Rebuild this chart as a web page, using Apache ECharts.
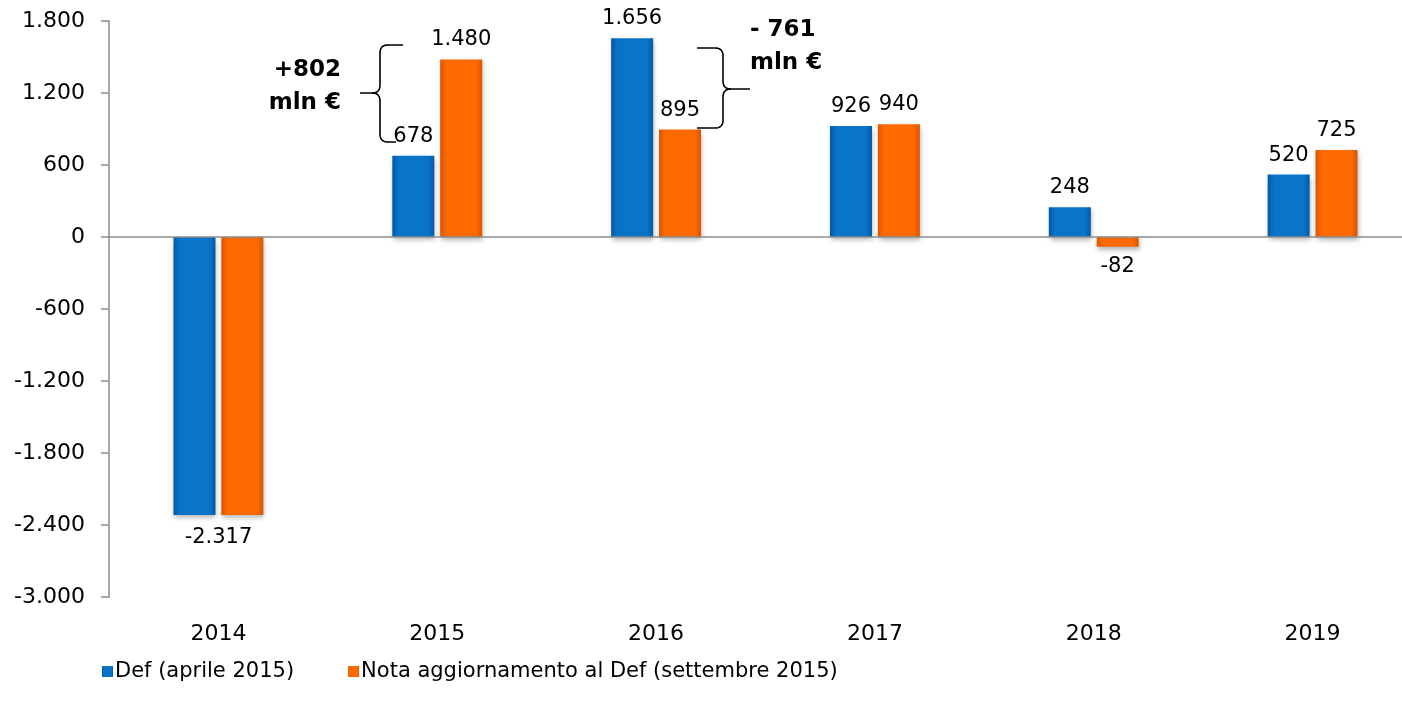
<!DOCTYPE html>
<html>
<head>
<meta charset="utf-8">
<script src="https://cdn.jsdelivr.net/npm/echarts@6/dist/echarts.min.js"></script>
<style>
html,body{margin:0;padding:0;background:#fff;overflow:hidden;width:1402px;height:712px;}
#chart{width:1430px;height:712px;}
</style>
</head>
<body>
<div id="chart"></div>
<script>
const categories = ['2014', '2015', '2016', '2017', '2018', '2019'];
const seriesNames = ['Def (aprile 2015)', 'Nota aggiornamento al Def (settembre 2015)'];
const defValues = [-2317, 678, 1656, 926, 248, 520];
const notaValues = [-2317, 1480, 895, 940, -82, 725];
const yTicks = { min: -3000, max: 1800, interval: 600 };
const annotations = ['+802', 'mln €', '- 761', 'mln €'];

const FONT = '"DejaVu Sans", sans-serif';

function itNum(v) {
  const s = Math.abs(Math.round(v)).toString().replace(/\B(?=(\d{3})+(?!\d))/g, '.');
  return (v < 0 ? '-' : '') + s;
}

function grad(edge, mid) {
  return new echarts.graphic.LinearGradient(0, 0, 1, 0, [
    { offset: 0, color: edge },
    { offset: 0.15, color: mid },
    { offset: 0.85, color: mid },
    { offset: 1, color: edge }
  ]);
}

const blueColor = grad('#0559a0', '#0a74c9');
const orangeColor = grad('#d95500', '#ff6a00');

function buildData(values, which) {
  return values.map((v, i) => {
    const item = { value: v };
    if (v < 0) item.label = { position: 'bottom' };
    if (i === 0) {
      if (which === 0) item.label = { position: 'bottom', offset: [24, 3] };
      else item.label = { show: false };
    }
    return item;
  });
}

// sample a sequence of segments: ['L', x, y] or ['Q', cx, cy, x, y]
function samplePath(start, segs) {
  const pts = [start.slice()];
  let cur = start.slice();
  segs.forEach(s => {
    if (s[0] === 'L') {
      cur = [s[1], s[2]];
      pts.push(cur);
    } else {
      const [_, cx, cy, x, y] = s;
      for (let k = 1; k <= 10; k++) {
        const t = k / 10;
        const px = (1 - t) * (1 - t) * cur[0] + 2 * (1 - t) * t * cx + t * t * x;
        const py = (1 - t) * (1 - t) * cur[1] + 2 * (1 - t) * t * cy + t * t * y;
        pts.push([px, py]);
      }
      cur = [x, y];
    }
  });
  return pts;
}

function braceLine(points) {
  return { type: 'polyline', shape: { points: points }, style: { fill: null, stroke: '#000', lineWidth: 1.6 } };
}

const brace1a = samplePath([403, 45], [['L', 388, 45], ['Q', 380, 45, 380, 53], ['L', 380, 85], ['Q', 380, 93, 372, 93], ['L', 360, 93]]);
const brace1b = samplePath([372, 93], [['Q', 380, 93, 380, 101], ['L', 380, 134], ['Q', 380, 142, 388, 142], ['L', 396, 142]]);
const brace2a = samplePath([697, 48], [['L', 715, 48], ['Q', 723, 48, 723, 56], ['L', 723, 81], ['Q', 723, 89, 731, 89], ['L', 750, 89]]);
const brace2b = samplePath([731, 89], [['Q', 723, 89, 723, 97], ['L', 723, 120], ['Q', 723, 128, 715, 128], ['L', 697, 128]]);

const labelStyle = {
  show: true,
  position: 'top',
  distance: 9,
  fontFamily: FONT,
  fontSize: 21,
  color: '#000',
  formatter: p => itNum(p.value)
};

const chart = echarts.init(document.getElementById('chart'), null, { renderer: 'canvas' });
chart.setOption({
  animation: false,
  backgroundColor: '#fff',
  grid: { left: 109, top: 21, width: 1313, height: 576 },
  legend: {
    left: 97,
    top: 656,
    itemWidth: 11,
    itemHeight: 11,
    itemGap: 54,
    icon: 'rect',
    textStyle: { fontFamily: FONT, fontSize: 21, color: '#000', padding: [0, 0, 0, -3] },
    data: seriesNames
  },
  xAxis: {
    type: 'category',
    data: categories,
    axisLine: { show: false, onZero: false },
    axisTick: { show: false },
    axisLabel: { fontFamily: FONT, fontSize: 22, color: '#000', margin: 26 }
  },
  yAxis: {
    type: 'value',
    min: yTicks.min,
    max: yTicks.max,
    interval: yTicks.interval,
    axisLine: { show: true, lineStyle: { color: '#8c8c8c', width: 1.5 } },
    axisTick: { show: true, inside: false, length: 8, lineStyle: { color: '#8c8c8c', width: 1.5 } },
    splitLine: { show: false },
    axisLabel: { fontFamily: FONT, fontSize: 22, color: '#000', margin: 24, formatter: v => itNum(v) }
  },
  series: [
    {
      name: seriesNames[0],
      type: 'bar',
      barWidth: 42,
      barGap: '14%',
      data: buildData(defValues, 0),
      itemStyle: { color: blueColor, shadowColor: 'rgba(0,0,0,0.3)', shadowBlur: 5, shadowOffsetY: 3, shadowOffsetX: 1 },
      label: labelStyle,
      markLine: {
        silent: true,
        symbol: 'none',
        label: { show: false },
        lineStyle: { color: '#8c8c8c', type: 'solid', width: 1.5 },
        data: [{ yAxis: 0 }]
      }
    },
    {
      name: seriesNames[1],
      type: 'bar',
      barWidth: 42,
      data: buildData(notaValues, 1),
      itemStyle: { color: orangeColor, shadowColor: 'rgba(0,0,0,0.3)', shadowBlur: 5, shadowOffsetY: 3, shadowOffsetX: 1 },
      label: labelStyle
    }
  ],
  graphic: [
    braceLine(brace1a),
    braceLine(brace1b),
    braceLine(brace2a),
    braceLine(brace2b),
    { type: 'text', x: 341, y: 70, style: { text: annotations[0], font: 'bold 23px ' + FONT, fill: '#000', textAlign: 'right', textVerticalAlign: 'middle' } },
    { type: 'text', x: 341, y: 103, style: { text: annotations[1], font: 'bold 23px ' + FONT, fill: '#000', textAlign: 'right', textVerticalAlign: 'middle' } },
    { type: 'text', x: 750, y: 30, style: { text: annotations[2], font: 'bold 23px ' + FONT, fill: '#000', textAlign: 'left', textVerticalAlign: 'middle' } },
    { type: 'text', x: 750, y: 63, style: { text: annotations[3], font: 'bold 23px ' + FONT, fill: '#000', textAlign: 'left', textVerticalAlign: 'middle' } }
  ]
});
</script>
</body>
</html>
